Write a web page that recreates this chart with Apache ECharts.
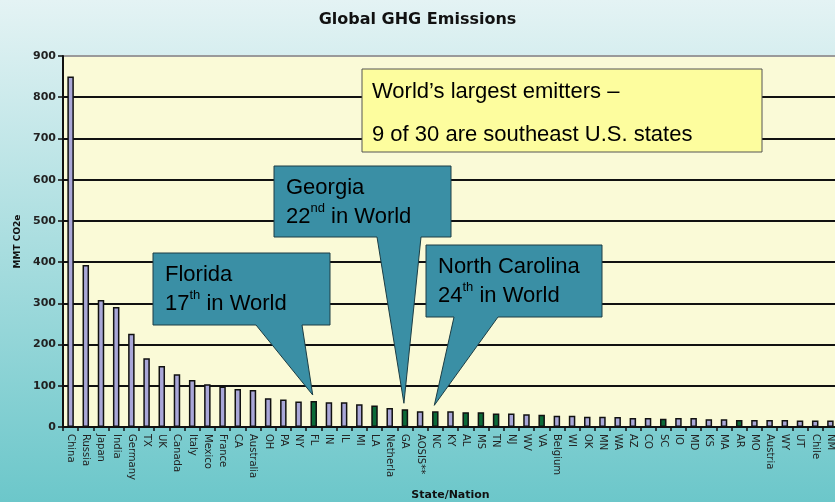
<!DOCTYPE html>
<html>
<head>
<meta charset="utf-8">
<script src="https://cdn.jsdelivr.net/npm/echarts@6/dist/echarts.min.js"></script>
<style>
    html, body { margin: 0; padding: 0; }
    #chart { width: 835px; height: 502px; }
</style>
</head>
<body>
<div id="chart"></div>
<script>
// emitters, largest first
const categories = [
    "China", "Russia", "Japan", "India", "Germany", "TX", "UK", "Canada", "Italy", "Mexico",
    "France", "CA", "Australia", "OH", "PA", "NY", "FL", "IN", "IL", "MI",
    "LA", "Netherla", "GA", "AOSIS**", "NC", "KY", "AL", "MS", "TN", "NJ",
    "WV", "VA", "Belgium", "WI", "OK", "MN", "WA", "AZ", "CO", "SC",
    "IO", "MD", "KS", "MA", "AR", "MO", "Austria", "WY", "UT", "Chile", "NM"
];
const emissions = [
    850, 393, 308, 291, 226, 167, 148, 128, 114, 104,
    98, 92, 90, 70, 67, 62, 63, 60, 60, 55,
    52, 46, 43, 38, 38, 38, 36, 36, 33, 33,
    31, 30, 27, 27, 25, 25, 24, 22, 22, 20,
    22, 22, 19, 19, 17, 17, 17, 17, 16, 16, 16
];
const southeast = ["FL", "LA", "GA", "NC", "AL", "MS", "TN", "VA", "SC", "AR"];

const callouts = [
    { target: "FL", line1: "Florida", rank: "17", suffix: "th", box: [153, 253, 330, 325], base: [256, 302] },
    { target: "GA", line1: "Georgia", rank: "22", suffix: "nd", box: [274, 166, 451, 237], base: [377, 421] },
    { target: "NC", line1: "North Carolina", rank: "24", suffix: "th", box: [426, 245, 602, 317], base: [454, 498] }
];
const noteLines = ["World\u2019s largest emitters \u2013", "9 of 30 are southeast U.S. states"];

const chart = echarts.init(document.getElementById("chart"));

const barData = categories.map((name, i) => ({
    value: emissions[i],
    itemStyle: { color: southeast.includes(name) ? "#0b6a38" : "#a9a7d8" }
}));

const gridColors = ["#111", "#111", "#111", "#111", "#111", "#111", "#111", "#111", "#111", "#9a9a9a"];

chart.setOption({
    backgroundColor: new echarts.graphic.LinearGradient(0, 0, 0, 1, [
        { offset: 0, color: "#e4f3f4" },
        { offset: 1, color: "#6cc7ca" }
    ]),
    animation: false,
    title: {
        text: "Global GHG Emissions",
        left: "center",
        top: 7,
        textStyle: { fontFamily: "DejaVu Sans", fontSize: 16, fontWeight: "bold", color: "#111" }
    },
    grid: {
        left: 63, top: 56, width: 775, height: 371,
        outerBoundsMode: "none", containLabel: false,
        show: true, backgroundColor: "#fafad7", borderWidth: 0
    },
    xAxis: {
        type: "category",
        data: categories,
        name: "State/Nation",
        nameLocation: "middle",
        nameGap: 63,
        nameTextStyle: { fontFamily: "DejaVu Sans", fontSize: 11, fontWeight: "bold", color: "#111" },
        axisLine: { lineStyle: { color: "#111", width: 2 } },
        axisTick: { show: true, length: 4, lineStyle: { color: "#111", width: 1.5 } },
        axisLabel: {
            interval: 0,
            rotate: -90,
            margin: 7,
            fontFamily: "DejaVu Sans",
            fontSize: 10,
            color: "#222"
        }
    },
    yAxis: {
        type: "value",
        min: 0,
        max: 900,
        interval: 100,
        name: "MMT CO2e",
        nameLocation: "middle",
        nameGap: 40,
        nameTextStyle: { fontFamily: "DejaVu Sans", fontSize: 9, fontWeight: "bold", color: "#111" },
        axisLine: { show: true, lineStyle: { color: "#111", width: 2 } },
        axisTick: { show: true, inside: false, length: 5, lineStyle: { color: "#111", width: 1.5 } },
        axisLabel: { fontFamily: "DejaVu Sans", fontSize: 11, fontWeight: "bold", color: "#222", margin: 7 },
        splitLine: { show: true, lineStyle: { color: gridColors, width: 2 } }
    },
    series: [{
        type: "bar",
        data: barData,
        barWidth: 6.5,
        itemStyle: { borderColor: "#111", borderWidth: 1.5 }
    }]
});

function calloutGraphic(c) {
    const idx = categories.indexOf(c.target);
    const tip = chart.convertToPixel({ gridIndex: 0 }, [idx, emissions[idx]]);
    const [x0, y0, x1, y1] = c.box;
    return [
        {
            type: "polygon",
            z: 100,
            shape: {
                points: [[x0, y0], [x1, y0], [x1, y1], [c.base[1], y1], [tip[0] - 1, tip[1] - 6], [c.base[0], y1], [x0, y1]]
            },
            style: { fill: "#3a8fa5", stroke: "#1c3d44", lineWidth: 1 }
        },
        {
            type: "text",
            z: 101,
            style: {
                x: x0 + 12, y: y0 + 7,
                text: c.line1 + "\n{a|" + c.rank + "}{s|" + c.suffix + "}{a| in World}",
                font: "22px 'Liberation Sans', Arial, sans-serif",
                fill: "#000",
                lineHeight: 29,
                rich: {
                    a: { fontSize: 22, fontFamily: "Liberation Sans", lineHeight: 29, fill: "#000" },
                    s: { fontSize: 13, fontFamily: "Liberation Sans", lineHeight: 29, verticalAlign: "top", fill: "#000" }
                }
            }
        }
    ];
}

const graphics = [
    {
        type: "rect",
        z: 100,
        shape: { x: 362, y: 69, width: 400, height: 83 },
        style: { fill: "#fdfd9e", stroke: "#555", lineWidth: 1 }
    },
    {
        type: "text",
        z: 101,
        style: {
            x: 372, y: 70,
            text: noteLines.join("\n"),
            font: "22px 'Liberation Sans', Arial, sans-serif",
            fill: "#000",
            lineHeight: 43
        }
    }
];
callouts.forEach(c => graphics.push(...calloutGraphic(c)));

chart.setOption({ graphic: graphics });
</script>
</body>
</html>
